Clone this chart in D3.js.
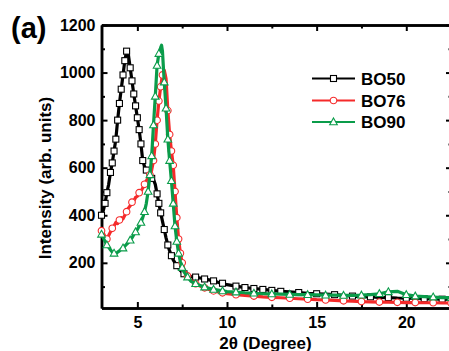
<!DOCTYPE html>
<html>
<head>
<meta charset="utf-8">
<script src="https://cdn.jsdelivr.net/npm/d3@7"></script>
<style>
  body { margin: 0; background: #fff; }
  svg text { font-family: "Liberation Sans", Arial, sans-serif; }
  .axis path, .axis line { stroke: #000; }
</style>
</head>
<body>
<svg id="chart" width="449" height="351"></svg>
<script>
// [2theta, intensity] pairs
const bo50 = [
  [3.0, 400], [3.1, 420], [3.2, 450], [3.3, 495], [3.4, 530], [3.5, 580], [3.6, 620], [3.7, 670],
  [3.8, 720], [3.9, 800], [4.0, 870], [4.1, 930], [4.2, 990], [4.3, 1050], [4.4, 1090], [4.45, 1095],
  [4.5, 1075], [4.6, 1020], [4.7, 965], [4.8, 910], [4.9, 860], [5.0, 810], [5.1, 760], [5.2, 700],
  [5.3, 630], [5.4, 605], [5.5, 590], [5.6, 575], [5.7, 565], [5.8, 555], [5.9, 550], [6.0, 530],
  [6.1, 490], [6.2, 450], [6.3, 410], [6.4, 375], [6.5, 340], [6.6, 305], [6.7, 275], [6.8, 250],
  [6.9, 230], [7.0, 212], [7.1, 200], [7.2, 188], [7.3, 178], [7.4, 168], [7.5, 160], [7.6, 154],
  [7.8, 148], [8.0, 142], [8.25, 140], [8.5, 136], [8.75, 132], [9.0, 128], [9.25, 124], [9.5, 118],
  [9.75, 114], [10, 108], [10.5, 102], [11, 96], [11.5, 92], [12, 88], [12.5, 84], [13, 80],
  [13.5, 78], [14, 75], [14.5, 72], [15, 70], [15.5, 68], [16, 66], [16.5, 63], [17, 60],
  [17.5, 58], [18, 57], [18.5, 55], [19, 54], [19.5, 52], [20, 51], [20.5, 50], [21, 49],
  [21.5, 48], [22, 47], [22.5, 46]
];
const bo76 = [
  [3.0, 335], [3.1, 325], [3.2, 310], [3.3, 300], [3.4, 315], [3.5, 330], [3.6, 345], [3.7, 355],
  [3.8, 370], [3.9, 365], [4.0, 380], [4.1, 390], [4.2, 385], [4.3, 400], [4.4, 415], [4.5, 430],
  [4.6, 440], [4.7, 455], [4.8, 460], [4.9, 475], [5.0, 480], [5.1, 495], [5.2, 500], [5.3, 515],
  [5.4, 530], [5.5, 545], [5.6, 555], [5.7, 570], [5.8, 590], [5.9, 630], [6.0, 700], [6.1, 800],
  [6.2, 880], [6.3, 940], [6.4, 990], [6.5, 1010], [6.6, 975], [6.7, 840], [6.8, 740], [6.9, 670],
  [7.0, 610], [7.1, 500], [7.2, 390], [7.3, 300], [7.4, 240], [7.5, 200], [7.6, 172], [7.8, 145],
  [8.0, 125], [8.25, 112], [8.5, 102], [8.75, 95], [9.0, 88], [9.25, 82], [9.5, 78], [9.75, 74],
  [10, 70], [10.5, 66], [11, 63], [11.5, 60], [12, 57], [12.5, 55], [13, 53], [13.5, 51],
  [14, 49], [14.5, 47], [15, 45], [15.5, 44], [16, 42], [16.5, 40], [17, 39], [17.5, 37],
  [18, 36], [18.5, 35], [19, 35], [19.5, 34], [20, 33], [20.5, 33], [21, 32], [21.5, 32],
  [22, 31], [22.5, 31]
];
const bo90 = [
  [3.0, 320], [3.1, 305], [3.2, 290], [3.3, 275], [3.4, 265], [3.5, 255], [3.6, 245], [3.7, 240],
  [3.8, 238], [3.9, 245], [4.0, 250], [4.1, 258], [4.2, 262], [4.3, 270], [4.4, 278], [4.5, 285],
  [4.6, 295], [4.7, 305], [4.8, 318], [4.9, 330], [5.0, 340], [5.1, 355], [5.2, 370], [5.3, 390],
  [5.4, 415], [5.5, 450], [5.6, 500], [5.7, 570], [5.8, 650], [5.9, 780], [6.0, 900], [6.1, 1030],
  [6.2, 1080], [6.3, 1105], [6.35, 1115], [6.4, 1090], [6.5, 960], [6.6, 850], [6.7, 720], [6.8, 630],
  [6.9, 545], [7.0, 450], [7.1, 355], [7.2, 290], [7.3, 240], [7.4, 205], [7.5, 180], [7.6, 162],
  [7.8, 140], [8.0, 122], [8.25, 112], [8.5, 105], [8.75, 98], [9.0, 93], [9.25, 88], [9.5, 85],
  [9.75, 82], [10, 79], [10.5, 77], [11, 74], [11.5, 72], [12, 70], [12.5, 69], [13, 68],
  [13.5, 67], [14, 66], [14.5, 66], [15, 65], [15.5, 64], [16, 64], [16.5, 63], [17, 63],
  [17.5, 64], [18, 66], [18.5, 70], [19, 78], [19.5, 80], [20, 66], [20.5, 60], [21, 58],
  [21.5, 56], [22, 54], [22.5, 53]
];

const seriesNames = ['BO50', 'BO76', 'BO90'];
const seriesColors = ['#000000', '#f52a2a', '#0a9c4a'];
const seriesShapes = ['square', 'circle', 'triangle'];

const xMajorTicks = [5, 10, 15, 20];
const xMinorTicks = [7.5, 12.5, 17.5, 22.5];
const yMajorTicks = [200, 400, 600, 800, 1000, 1200];
const yMinorTicks = [100, 300, 500, 700, 900, 1100];

const svg = d3.select('#chart');
const margin = { top: 25, left: 101.5 };
const plotRight = 452;
const plotBottom = 308;

const x = d3.scaleLinear().domain([3, 22.55]).range([margin.left, plotRight]);
const y = d3.scaleLinear().domain([10, 1200]).range([plotBottom, margin.top]);

// Axes: ticks point inward
function styleAxis(g) {
  g.select('.domain').attr('stroke-width', 2.5);
  g.selectAll('.tick line').attr('stroke-width', 2);
  g.selectAll('.tick text')
    .attr('font-size', 16)
    .attr('font-weight', 'bold')
    .attr('fill', '#000')
    .attr('font-family', '"Liberation Sans", Arial, sans-serif');
}

// bottom
svg.append('g').attr('class', 'axis')
  .attr('transform', `translate(0, ${plotBottom})`)
  .call(d3.axisBottom(x).tickValues(xMajorTicks).tickSizeInner(-6).tickSizeOuter(0).tickPadding(9))
  .call(styleAxis);
svg.append('g').attr('class', 'axis')
  .attr('transform', `translate(0, ${plotBottom})`)
  .call(d3.axisBottom(x).tickValues(xMinorTicks).tickSizeInner(-3.5).tickSizeOuter(0).tickFormat(''))
  .call(styleAxis);
// top
svg.append('g').attr('class', 'axis')
  .attr('transform', `translate(0, ${margin.top})`)
  .call(d3.axisTop(x).tickValues(xMajorTicks).tickSizeInner(-6).tickSizeOuter(0).tickFormat(''))
  .call(styleAxis);
svg.append('g').attr('class', 'axis')
  .attr('transform', `translate(0, ${margin.top})`)
  .call(d3.axisTop(x).tickValues(xMinorTicks).tickSizeInner(-3.5).tickSizeOuter(0).tickFormat(''))
  .call(styleAxis);
// left
svg.append('g').attr('class', 'axis')
  .attr('transform', `translate(${margin.left}, 0)`)
  .call(d3.axisLeft(y).tickValues(yMajorTicks).tickFormat(d3.format('d'))
    .tickSizeInner(-6).tickSizeOuter(0).tickPadding(6))
  .call(styleAxis);
svg.append('g').attr('class', 'axis')
  .attr('transform', `translate(${margin.left}, 0)`)
  .call(d3.axisLeft(y).tickValues(yMinorTicks).tickSizeInner(-3.5).tickSizeOuter(0).tickFormat(''))
  .call(styleAxis);
// right
svg.append('g').attr('class', 'axis')
  .attr('transform', `translate(${plotRight}, 0)`)
  .call(d3.axisRight(y).tickValues(yMajorTicks).tickSizeInner(-6).tickSizeOuter(0).tickFormat(''))
  .call(styleAxis);
svg.append('g').attr('class', 'axis')
  .attr('transform', `translate(${plotRight}, 0)`)
  .call(d3.axisRight(y).tickValues(yMinorTicks).tickSizeInner(-3.5).tickSizeOuter(0).tickFormat(''))
  .call(styleAxis);

// Marker shapes
function drawMarker(sel, shape, color) {
  if (shape === 'square') {
    sel.append('rect')
      .attr('x', -3).attr('y', -3).attr('width', 6).attr('height', 6)
      .attr('fill', '#fff').attr('stroke', color).attr('stroke-width', 1.1);
  } else if (shape === 'circle') {
    sel.append('circle')
      .attr('r', 3.3)
      .attr('fill', '#fff').attr('stroke', color).attr('stroke-width', 1.1);
  } else {
    sel.append('path')
      .attr('d', 'M0,-4L3.8,2.8L-3.8,2.8Z')
      .attr('fill', '#fff').attr('stroke', color).attr('stroke-width', 1.1);
  }
}

const line = d3.line().x(d => x(d[0])).y(d => y(d[1]));
const plot = svg.append('g');

[bo50, bo76, bo90].forEach((data, i) => {
  plot.append('path')
    .datum(data)
    .attr('fill', 'none')
    .attr('stroke', seriesColors[i])
    .attr('stroke-width', 3.2)
    .attr('stroke-linejoin', 'round')
    .attr('d', line);

  // thin out the markers so they do not pile on top of each other
  let last = null;
  const marks = data.filter(d => {
    const px = x(d[0]), py = y(d[1]);
    if (last && Math.hypot(px - last[0], py - last[1]) < 9) return false;
    last = [px, py];
    return true;
  });

  plot.selectAll(null)
    .data(marks)
    .enter().append('g')
      .attr('transform', d => `translate(${x(d[0])}, ${y(d[1])})`)
      .each(function () { drawMarker(d3.select(this), seriesShapes[i], seriesColors[i]); });
});

// Legend
const legend = svg.append('g');
seriesNames.forEach((name, i) => {
  const ly = [78.5, 100.5, 122][i];
  legend.append('line')
    .attr('x1', 312).attr('x2', 355).attr('y1', ly).attr('y2', ly)
    .attr('stroke', seriesColors[i]).attr('stroke-width', 2);
  const m = legend.append('g').attr('transform', `translate(333.5, ${ly})`);
  drawMarker(m, seriesShapes[i], seriesColors[i]);
  legend.append('text')
    .attr('x', 361).attr('y', ly + 6.3)
    .attr('font-size', 17)
    .attr('font-weight', 'bold')
    .text(name);
});

// Titles
svg.append('text')
  .attr('transform', 'translate(51, 178) rotate(-90)')
  .attr('text-anchor', 'middle')
  .attr('font-size', 17)
  .attr('font-weight', 'bold')
  .text('Intensity (arb. units)');
svg.append('text')
  .attr('x', 265.5).attr('y', 348.5)
  .attr('text-anchor', 'middle')
  .attr('font-size', 17)
  .attr('font-weight', 'bold')
  .text('2θ (Degree)');
svg.append('text')
  .attr('x', 11).attr('y', 37.5)
  .attr('font-size', 29)
  .attr('font-weight', 'bold')
  .text('(a)');
</script>
</body>
</html>
